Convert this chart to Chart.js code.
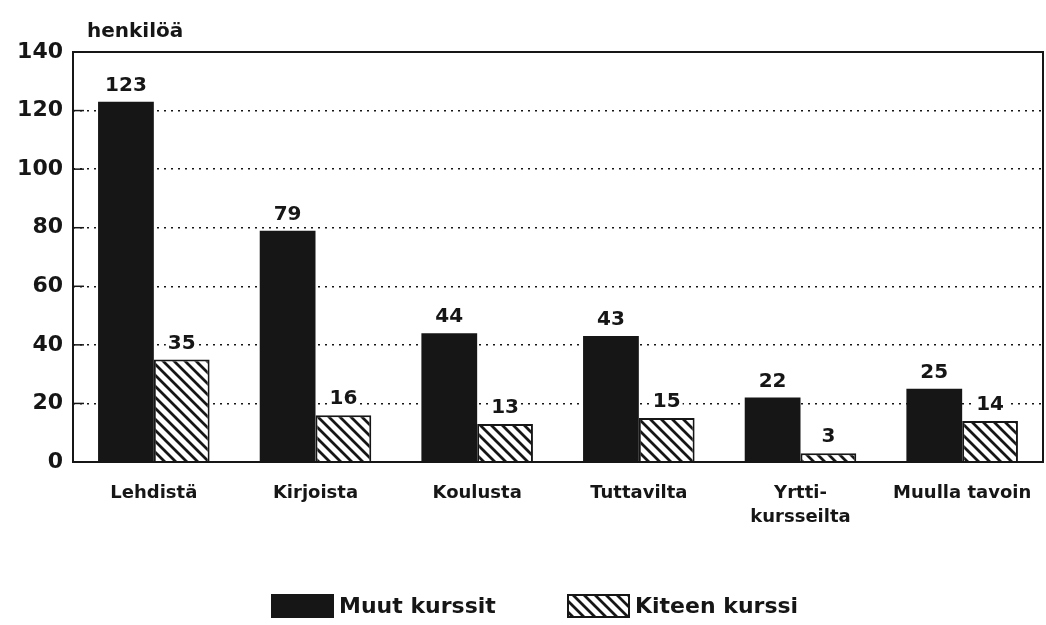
<!DOCTYPE html>
<html lang="fi">
<head>
  <meta charset="UTF-8">
  <title>henkilöä</title>
  <style>
    body {
      margin: 0;
      padding: 0;
      background-color: white;
    }
    .chart-box {
      width: 1046px;
      height: 625px;
    }
  </style>
</head>
<body>
  <div class="chart-box">
    <canvas id="barChart"></canvas>
  </div>

  <script src="https://cdn.jsdelivr.net/npm/chart.js"></script>
  <script>
    const categories = ["Lehdistä", "Kirjoista", "Koulusta", "Tuttavilta", ["Yrtti-", "kursseilta"], "Muulla tavoin"];
    const muutKurssit = [123, 79, 44, 43, 22, 25];
    const kiteenKurssi = [35, 16, 13, 15, 3, 14];
    const seriesNames = ["Muut kurssit", "Kiteen kurssi"];
    const yTicks = [0, 20, 40, 60, 80, 100, 120, 140];

    const FONT = "'DejaVu Sans', sans-serif";
    const INK = "#161616";

    // diagonal hatch pattern for the second series
    function makeHatch() {
      const s = 11;
      const c = document.createElement("canvas");
      c.width = s;
      c.height = s;
      const g = c.getContext("2d");
      g.fillStyle = "white";
      g.fillRect(0, 0, s, s);
      g.strokeStyle = INK;
      g.lineWidth = 2.8;
      g.beginPath();
      g.moveTo(-1, -1); g.lineTo(s + 1, s + 1);
      g.moveTo(-2, s - 2); g.lineTo(2, s + 2);
      g.moveTo(s - 2, -2); g.lineTo(s + 2, 2);
      g.stroke();
      return g.createPattern(c, "repeat");
    }
    const hatch = makeHatch();

    // frame, tick marks, value labels, axis title and legend
    const decorations = {
      id: "decorations",
      afterDatasetsDraw(chart) {
        const ctx = chart.ctx;
        const area = chart.chartArea;
        const y = chart.scales.y;
        ctx.save();
        ctx.strokeStyle = INK;
        ctx.lineWidth = 2;
        ctx.strokeRect(area.left, area.top, area.right - area.left, area.bottom - area.top);

        yTicks.forEach(v => {
          const py = y.getPixelForValue(v);
          ctx.beginPath();
          ctx.moveTo(area.left, py);
          ctx.lineTo(area.left + 11, py);
          ctx.lineWidth = 1.5;
          ctx.stroke();
        });

        ctx.font = "bold 20px " + FONT;
        ctx.textAlign = "center";
        ctx.textBaseline = "bottom";
        chart.data.datasets.forEach((ds, i) => {
          chart.getDatasetMeta(i).data.forEach((bar, j) => {
            const txt = String(ds.data[j]);
            const w = ctx.measureText(txt).width;
            ctx.fillStyle = "white";
            ctx.fillRect(bar.x - w / 2 - 2, bar.y - 27, w + 4, 20);
            ctx.fillStyle = INK;
            ctx.fillText(txt, bar.x, bar.y - 6);
          });
        });

        ctx.textAlign = "left";
        ctx.textBaseline = "alphabetic";
        ctx.font = "bold 20px " + FONT;
        ctx.fillText("henkilöä", area.left + 14, 37);

        // legend
        const items = [
          { x: 272, fill: INK, label: seriesNames[0] },
          { x: 568, fill: hatch, label: seriesNames[1] }
        ];
        ctx.font = "bold 22px " + FONT;
        ctx.textBaseline = "middle";
        items.forEach(it => {
          ctx.fillStyle = it.fill;
          ctx.fillRect(it.x, 595, 61, 22);
          ctx.lineWidth = 2;
          ctx.strokeRect(it.x, 595, 61, 22);
          ctx.fillStyle = INK;
          ctx.fillText(it.label, it.x + 67, 607);
        });
        ctx.restore();
      }
    };

    new Chart(document.getElementById("barChart"), {
      type: "bar",
      data: {
        labels: categories,
        datasets: [
          {
            label: seriesNames[0],
            data: muutKurssit,
            backgroundColor: INK,
            borderColor: INK,
            borderWidth: 0
          },
          {
            label: seriesNames[1],
            data: kiteenKurssi,
            backgroundColor: hatch,
            borderColor: INK,
            borderWidth: 2
          }
        ]
      },
      options: {
        responsive: true,
        maintainAspectRatio: false,
        animation: false,
        layout: {
          padding: { top: 52, right: 3, bottom: 0, left: 0 }
        },
        datasets: {
          bar: { categoryPercentage: 0.69, barPercentage: 1.0 }
        },
        plugins: {
          legend: { display: false },
          tooltip: { enabled: false }
        },
        scales: {
          x: {
            grid: { display: false, drawTicks: false },
            border: { display: false },
            ticks: {
              color: INK,
              font: { family: FONT, size: 18, weight: "bold", lineHeight: 1.3 },
              padding: 20,
              maxRotation: 0,
              autoSkip: false
            },
            afterFit(scale) {
              scale.height = 163;
              scale.paddingLeft = 0;
              scale.paddingRight = 0;
            }
          },
          y: {
            min: 0,
            max: 140,
            grid: {
              color: INK,
              lineWidth: 1.5,
              drawTicks: false
            },
            border: { display: false, dash: [2, 5] },
            ticks: {
              stepSize: 20,
              color: INK,
              font: { family: FONT, size: 22, weight: "bold" },
              padding: 10
            },
            afterFit(scale) {
              scale.width = 73;
              scale.paddingTop = 0;
              scale.paddingBottom = 0;
            }
          }
        }
      },
      plugins: [decorations]
    });
  </script>
</body>
</html>
